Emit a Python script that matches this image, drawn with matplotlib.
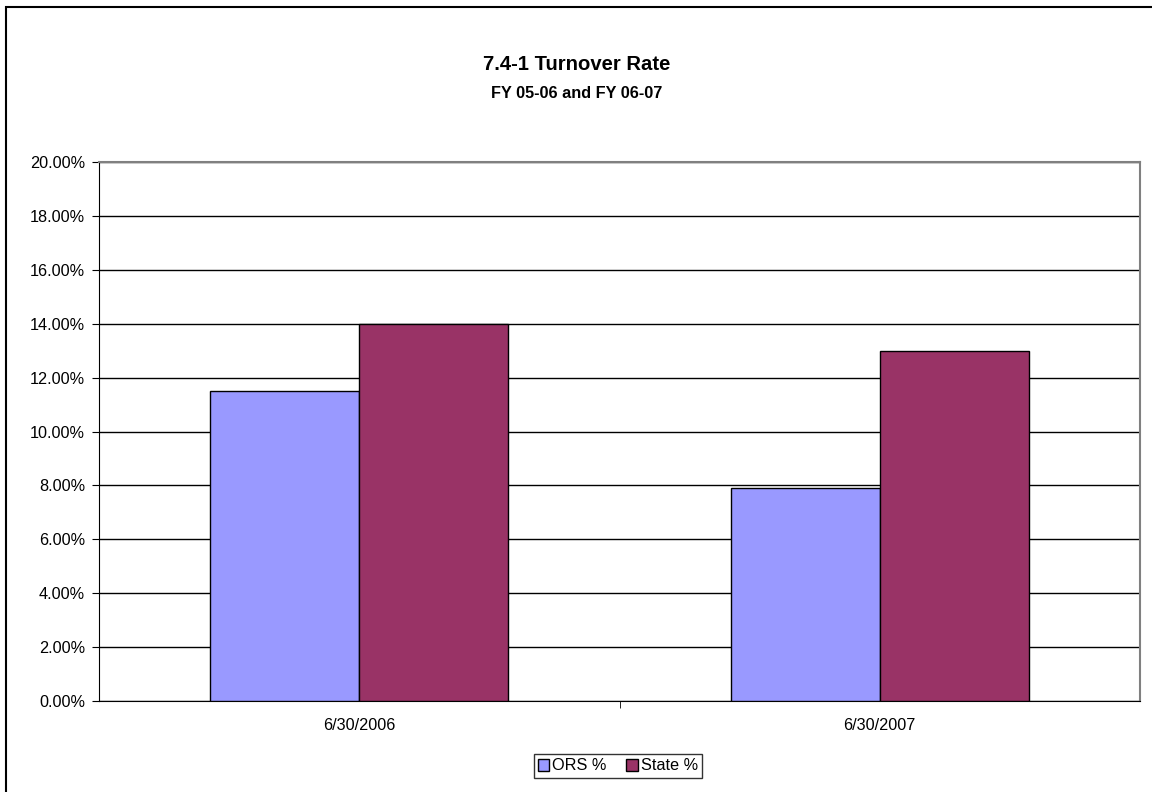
import matplotlib.pyplot as plt
import numpy as np
from matplotlib.patches import Rectangle
from matplotlib.ticker import MultipleLocator, PercentFormatter

plt.rcParams["font.family"] = ["Liberation Sans", "DejaVu Sans"]

categories = ["6/30/2006", "6/30/2007"]
ors_pct = [11.5, 7.9]
state_pct = [14.0, 13.0]
series_names = ["ORS %", "State %"]
series_colors = ["#9999FF", "#993366"]

fig = plt.figure(figsize=(11.52, 7.92), dpi=100)

# chart-area frame
fig.patches.append(Rectangle((6 / 1152, -0.01), 1.2, (792 - 7) / 792 + 0.01,
                             transform=fig.transFigure, fill=False,
                             edgecolor="black", linewidth=1.5))

ax = fig.add_axes([99 / 1152, 91 / 792, 1041 / 1152, 539 / 792])

x = np.arange(len(categories))
w = 0.286
ax.bar(x - w / 2, ors_pct, w, color=series_colors[0], edgecolor="black",
       linewidth=1, label=series_names[0], zorder=3)
ax.bar(x + w / 2, state_pct, w, color=series_colors[1], edgecolor="black",
       linewidth=1, label=series_names[1], zorder=3)

ax.set_xlim(-0.5, len(categories) - 0.5)
ax.set_ylim(0, 20)
ax.yaxis.set_major_locator(MultipleLocator(2))
ax.yaxis.set_major_formatter(PercentFormatter(decimals=2))
ax.yaxis.grid(True, color="black", linewidth=1)
ax.set_axisbelow(True)

ax.set_xticks(x)
ax.set_xticklabels(categories)
ax.set_xticks([0.5], minor=True)
ax.tick_params(axis="x", which="major", length=0, pad=12, labelsize=11.7)
ax.tick_params(axis="x", which="minor", length=5, color="black")
ax.tick_params(axis="y", length=5, labelsize=11.7, pad=5)

for side in ["top", "right"]:
    ax.spines[side].set_color("#808080")
    ax.spines[side].set_linewidth(1.5)
ax.spines["left"].set_color("black")
ax.spines["bottom"].set_color("black")

fig.text(577 / 1152, 1 - 65 / 792, "7.4-1 Turnover Rate", ha="center",
         va="center", fontsize=14.6, fontweight="bold")
fig.text(577 / 1152, 1 - 93 / 792, "FY 05-06 and FY 06-07", ha="center",
         va="center", fontsize=11.7, fontweight="bold")

leg = fig.legend(loc="center", bbox_to_anchor=(618 / 1152, 1 - 766 / 792),
                 ncol=2, frameon=True, fancybox=False, fontsize=11.7,
                 handlelength=0.7, handleheight=0.7, handletextpad=0.2,
                 columnspacing=1.2, borderpad=0.25)
leg.get_frame().set_edgecolor("black")
leg.get_frame().set_linewidth(1)

fig.savefig("out.png", dpi=100)
